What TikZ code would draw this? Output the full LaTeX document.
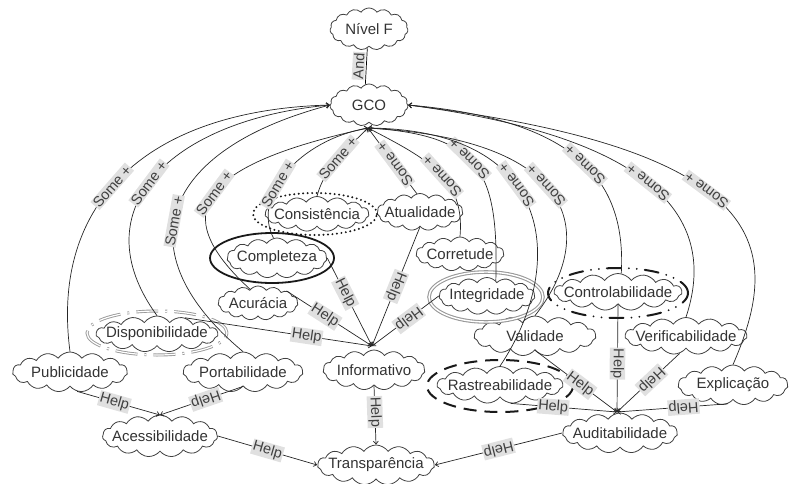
\documentclass[tikz,border=0pt]{standalone}
\usepackage{fontspec}
\setmainfont{Liberation Sans}
\usetikzlibrary{shapes.geometric, shapes.symbols, arrows.meta, positioning}
\newcommand{\sgfont}{\fontsize{15}{17}\selectfont}
\newcommand{\lnkfont}{\fontsize{14.5}{16}\selectfont}
\tikzset{
    % softgoal clouds
    softgoal/.style={
        cloud,
        cloud puffs=15,
        cloud puff arc=110,
        cloud ignores aspect,
        draw=black!75,
        line width=0.8pt,
        inner xsep=-24pt,
        inner ysep=-4pt,
        minimum width=#1,
        minimum height=37pt,
        font=\sgfont,
        text=black!80
    },
    softgoal/.default=110pt,
    % link labels
    linklbl/.style={
        fill=black!12,
        inner sep=1pt,
        font=\lnkfont,
        text=black!75,
        sloped,
        allow upside down
    },
    % links
    contrib/.style={
        -{Straight Barb[length=3pt,width=5pt]},
        line width=0.7pt,
        draw=black!85
    },
    % priority marks
    critical/.style={
        ellipse,
        draw=black!90,
        line width=1.8pt
    },
    dottedmark/.style={
        ellipse,
        draw=black!90,
        line width=2.2pt,
        line cap=round,
        dash pattern=on 0pt off 4.5pt
    },
    dashedmark/.style={
        ellipse,
        draw=black!90,
        line width=2pt,
        dash pattern=on 13pt off 8pt
    },
    dashdotmark/.style={
        ellipse,
        draw=black!90,
        line width=2pt,
        line cap=round,
        dash pattern=on 14pt off 8pt on 0pt off 8pt on 0pt off 8pt
    },
    graymark/.style={
        ellipse,
        draw=gray!80,
        line width=1.1pt,
        double=white,
        double distance=1.4pt
    },
    graydashmark/.style={
        ellipse,
        draw=gray!80,
        line width=0.9pt,
        double=white,
        double distance=1.2pt,
        dash pattern=on 22pt off 7pt on 2pt off 7pt
    }
}

\begin{document}
\begin{tikzpicture}[x=1pt, y=-1pt]
    \useasboundingbox (0,0) rectangle (789,484);

    % softgoals
    \node[softgoal=78pt, minimum height=42pt] (nivel) at (369,29) {Nível F};
    \node[softgoal=78pt, minimum height=42pt] (gco) at (369,105) {GCO};
    \node[softgoal=104pt, minimum height=35pt] (cons) at (317,214) {Consistência};
    \node[softgoal=86pt] (atua) at (420,212) {Atualidade};
    \node[softgoal=100pt, minimum height=40pt] (comp) at (277,258) {Completeza};
    \node[softgoal=88pt, minimum height=34pt] (corr) at (460,254) {Corretude};
    \node[softgoal=80pt, minimum height=34pt] (acur) at (258,303) {Acurácia};
    \node[softgoal=96pt] (integ) at (487,296) {Integridade};
    \node[softgoal=128pt] (ctrl) at (618,292) {Controlabilidade};
    \node[softgoal=122pt, minimum height=36pt] (disp) at (157,334) {Disponibilidade};
    \node[softgoal=122pt, minimum height=40pt] (valid) at (535,336) {Validade};
    \node[softgoal=122pt] (verif) at (686,336) {Verificabilidade};
    \node[softgoal=115pt, minimum height=40pt] (publ) at (70,372) {Publicidade};
    \node[softgoal=120pt, minimum height=40pt] (port) at (243,372) {Portabilidade};
    \node[softgoal=102pt, minimum height=40pt] (inf) at (374,370) {Informativo};
    \node[softgoal=126pt] (rast) at (500,385) {Rastreabilidade};
    \node[softgoal=110pt, minimum height=40pt] (expl) at (733,385) {Explicação};
    \node[softgoal=115pt, minimum height=42pt] (aces) at (160,436) {Acessibilidade};
    \node[softgoal=115pt, minimum height=40pt] (aud) at (620,433) {Auditabilidade};
    \node[softgoal=117pt, minimum height=40pt] (transp) at (376,465) {Transparência};

    % priority marks
    \node[dottedmark, minimum width=124pt, minimum height=42pt] (consP) at (315,214) {};
    \node[critical, minimum width=124pt, minimum height=50pt] (compP) at (272,258) {};
    \node[graymark, minimum width=114pt, minimum height=50pt] (integP) at (486,297) {};
    \node[dashdotmark, minimum width=140pt, minimum height=50pt] (ctrlP) at (618,293) {};
    \node[dashedmark, minimum width=146pt, minimum height=52pt] (rastP) at (500,386) {};
    \node[graydashmark, minimum width=140pt, minimum height=44pt] (dispP) at (157,333) {};

    % junction points
    \coordinate (jG) at (368,128);
    \coordinate (jInf) at (372,346);
    \coordinate (jAud) at (617,412);
    \coordinate (jAce) at (160,415);

    % and
    \draw[line width=0.7pt] (gco.100) -- node[linklbl, above=1pt] {And} (nivel.265);

    % some + towards GCO
    \draw[contrib] (publ.north) .. controls +(-20,-152) and +(-180,5) .. node[linklbl, pos=0.45] {Some +} (gco.west);
    \draw[contrib] (disp.north) .. controls +(-77,-106) and +(-160,15) .. node[linklbl, pos=0.47] {Some +} (gco.west);
    \draw[contrib] (port.north) .. controls +(-120,-100) and +(-170,45) .. node[linklbl, pos=0.45] {Some +} (gco.west);
    \draw[contrib] (acur.120) .. controls +(-85,-78) and +(-168,37) .. node[linklbl, pos=0.5] {Some +} (jG);
    \draw[contrib] (comp.100) .. controls +(-22,-43) and +(-68,12) .. node[linklbl, pos=0.4] {Some +} (jG);
    \draw[contrib] (cons.north) .. controls +(8,-30) and +(-20,20) .. node[linklbl, pos=0.5] {Some +} (jG);
    \draw[contrib] (atua.100) -- node[linklbl, pos=0.45] {Some +} (jG);
    \draw[contrib] (corr.north) .. controls +(5,-57) and +(62,32) .. node[linklbl, pos=0.47] {Some +} (jG);
    \draw[contrib] (integ.60) .. controls +(3,-110) and +(112,7) .. node[linklbl, pos=0.55] {Some +} (jG);
    \draw[contrib] (rast.north) .. controls +(65,-97) and +(192,2) .. node[linklbl, pos=0.6] {Some +} (jG);
    \draw[contrib] (valid.north) .. controls +(60,-76) and +(217,12) .. node[linklbl, pos=0.56] {Some +} (jG);
    \draw[contrib] (ctrl.80) .. controls +(5,-90) and +(172,15) .. node[linklbl, pos=0.48] {Some +} (gco.east);
    \draw[contrib] (verif.north) .. controls +(29,-87) and +(267,35) .. node[linklbl, pos=0.54] {Some +} (gco.east);
    \draw[contrib] (expl.north) .. controls +(50,-115) and +(367,45) .. node[linklbl, pos=0.57] {Some +} (gco.east);

    % help towards Informativo
    \draw[contrib] (comp.east) -- node[linklbl, pos=0.4] {Help} (jInf);
    \draw[contrib] (acur.north east) -- node[linklbl, pos=0.45] {Help} (jInf);
    \draw[contrib] (disp.30) -- node[linklbl, pos=0.65] {Help} (jInf);
    \draw[contrib] (atua.south) -- node[linklbl, pos=0.5] {Help} (jInf);
    \draw[contrib] (integ.west) -- node[linklbl, pos=0.45] {Help} (jInf);

    % help towards Acessibilidade
    \draw[contrib] (publ.290) -- node[linklbl, pos=0.45] {Help} (jAce);
    \draw[contrib] (port.south) -- node[linklbl, pos=0.45] {Help} (jAce);

    % help towards Auditabilidade
    \draw[contrib] (valid.south) -- node[linklbl, pos=0.55] {Help} (jAud);
    \draw[contrib] (rast.300) -- node[linklbl, pos=0.4] {Help} (jAud);
    \draw[contrib] (ctrl.south) -- node[linklbl, pos=0.55] {Help} (jAud);
    \draw[contrib] (verif.250) -- node[linklbl, pos=0.45] {Help} (jAud);
    \draw[contrib] (expl.255) -- node[linklbl, pos=0.4] {Help} (jAud);

    % help towards Transparência
    \draw[contrib] (inf.south) -- node[linklbl, pos=0.45] {Help} (transp.north);
    \draw[contrib] (aces.east) -- node[linklbl, pos=0.5] {Help} (transp.west);
    \draw[contrib] (aud.west) -- node[linklbl, pos=0.5] {Help} (transp.east);
\end{tikzpicture}
\end{document}
